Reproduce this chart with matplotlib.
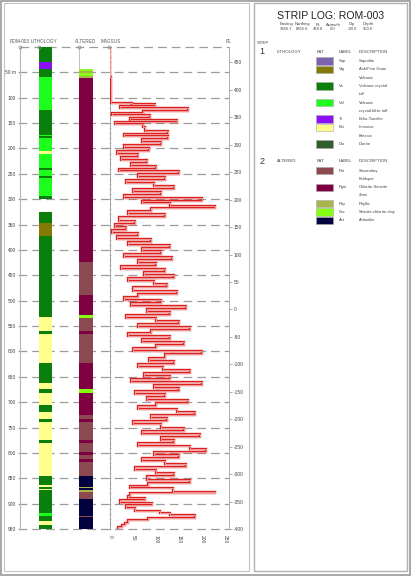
import numpy as np
import matplotlib
matplotlib.use("Agg")
from matplotlib import pyplot as plt
from matplotlib.patches import Rectangle
from matplotlib.ticker import MultipleLocator

plt.rcParams['font.family'] = ['Liberation Sans', 'DejaVu Sans']
plt.rcParams['axes.unicode_minus'] = False

# lithology intervals (depth from, depth to, code)
lith_from = [0, 30, 43, 59, 125, 173, 176, 179, 205, 211, 238, 242, 254, 258, 294,
             326, 346, 373, 532, 559, 565, 623, 662, 674, 681, 706, 719, 733, 740,
             775, 781, 845, 864, 867, 871, 874, 919, 925, 935, 943]
lith_to = [30, 43, 59, 125, 173, 176, 179, 205, 211, 238, 242, 254, 258, 294, 299,
           346, 373, 532, 559, 565, 623, 662, 674, 681, 706, 719, 733, 740, 775,
           781, 845, 864, 867, 871, 874, 919, 925, 935, 943, 950]
lith_code = ['Vx', 'Te', 'Vx', 'Vxl', 'Vx', 'Vxl', 'Vx', 'Vxl', 'Bxi', 'Vxl', 'Vx', 'Vxl', 'Vx', 'Vxl', 'Vx',
             'Vx', 'Vfg', 'Vx', 'Bxi', 'Vx', 'Bxi', 'Vx', 'Bxi', 'Vx', 'Bxi', 'Vx', 'Bxi', 'Vx', 'Bxi',
             'Vx', 'Bxi', 'Vx', 'Bxi', 'Vx', 'Bxi', 'Vx', 'Vxl', 'Vx', 'Bxi', 'Vx']

# alteration intervals
alt_from = [43, 48, 52, 57, 61, 423, 488, 529, 534, 559, 565, 623, 674, 681, 725, 733, 740,
            775, 781, 799, 805, 813, 818, 845, 867, 870, 874, 877, 890, 924, 927]
alt_to = [48, 52, 57, 61, 423, 488, 529, 534, 559, 565, 623, 674, 681, 725, 733, 740, 775,
          781, 799, 805, 813, 818, 845, 867, 870, 874, 877, 890, 924, 927, 950]
alt_code = ['Scc', 'Phy', 'Scc', 'Phy', 'Pgm', 'Pot', 'Pgm', 'Scc', 'Pot', 'Pgm', 'Pot', 'Pgm', 'Scc', 'Pgm', 'Pot', 'Pgm', 'Pot',
            'Pgm', 'Pot', 'Pgm', 'Pot', 'Pgm', 'Pot', 'Act', 'Phy', 'Act', 'Phy', 'Pot', 'Act', 'Pot', 'Act']

# magnetic susceptibility, step values from each depth down to the next one
mag_from = [0, 60, 111, 113, 117, 121, 126, 131, 134, 139, 143, 148, 152, 158, 165, 171, 175, 181, 187,
            193, 199, 205, 210, 216, 222, 228, 234, 240, 245, 251, 256, 262, 268, 274, 280, 286, 292,
            298, 303, 308, 313, 318, 324, 330, 336, 342, 348, 354, 360, 366, 372, 378, 384, 390, 396,
            402, 408, 414, 420, 426, 432, 438, 444, 450, 456, 462, 468, 474, 480, 486, 492, 498, 504,
            510, 516, 522, 528, 534, 540, 546, 552, 558, 564, 570, 576, 582, 588, 594, 600, 606, 612,
            618, 624, 630, 636, 642, 648, 654, 660, 666, 672, 678, 684, 690, 696, 702, 708, 714, 720,
            726, 732, 738, 744, 750, 756, 762, 768, 774, 780, 786, 792, 798, 804, 810, 816, 822, 828,
            834, 840, 846, 854, 860, 866, 870, 877, 879, 885, 889, 893, 899, 903, 909, 915, 919, 923,
            929, 933, 939, 943, 947]
mag_val = [1, 2, 47, 98, 22, 169, 72, 5, 87, 43, 145, 10, 72, 76, 127, 30, 127, 69, 112,
           30, 85, 15, 60, 25, 80, 45, 100, 20, 150, 60, 120, 35, 95, 140, 50, 110, 30,
           200, 70, 130, 228, 90, 40, 120, 20, 55, 10, 35, 5, 60, 15, 90, 40, 130, 70,
           110, 30, 135, 60, 100, 25, 120, 75, 140, 40, 95, 125, 50, 145, 60, 30, 110, 45,
           165, 80, 130, 35, 100, 150, 60, 175, 90, 40, 130, 70, 160, 100, 50, 200, 120, 85,
           140, 60, 115, 175, 75, 130, 45, 200, 95, 150, 55, 120, 80, 170, 100, 60, 145, 185,
           90, 125, 50, 110, 160, 70, 195, 110, 140, 60, 175, 210, 95, 150, 70, 120, 165, 55,
           100, 140, 80, 174, 83, 43, 137, 228, 43, 39, 76, 22, 91, 35, 54, 109, 130, 185,
           83, 39, 33, 26, 17]
mag_bottom = 950

depth_ticks = list(range(0, 951, 50))
rl_ticks = list(range(450, -401, -50))
mag_ticks = [0, 50, 100, 150, 200, 250]

lith_legend = ['Sap', 'Vfg', 'Vx', 'Vxl', 'Te', 'Bxi', 'Dio']
lith_desc = ['Saprolite', 'Ash/Fine Grain\nVolcanic', 'Volcanic crystal\ntuff', 'Volcanic\ncrystal-lithic tuff',
             'Echo-Tonalite', 'Intrusive\nBreccia', 'Diorite']
alt_legend = ['Pot', 'Pgm', 'Phy', 'Scc', 'Act']
alt_desc = ['Secondary\nFeldspar', 'Chlorite-Sericite\nZone', 'Phyllic', 'Sericite-chlorite-clay', 'Actinolite']

colors = {'Sap': '#7d62ad', 'Vfg': '#857a06', 'Vx': '#0b7f0b', 'Vxl': '#1cff1c', 'Te': '#8a10f5',
          'Bxi': '#ffff8c', 'Dio': '#2f5e2c',
          'Pot': '#8a4a50', 'Pgm': '#7e0040', 'Phy': '#a9b54c', 'Scc': '#84ff10', 'Act': '#02023e'}

W, H = 412, 582
fig = plt.figure(figsize=(W / 100, H / 100), dpi=100)


def box(x0, y0, x1, y1):
    # pixel box -> figure rect
    return [x0 / W, 1 - y1 / H, (x1 - x0) / W, (y1 - y0) / H]


def fpt(x, y):
    return x / W, 1 - y / H


# panel frames
fig.patches.append(Rectangle((1 / W, 1 - 575 / H), 409 / W, 574 / H, transform=fig.transFigure,
                             fill=False, ec='#9a9a9a', lw=1.2))
fig.patches.append(Rectangle((3.5 / W, 1 - 571 / H), 246 / W, 568 / H, transform=fig.transFigure,
                             fill=False, ec='#c4c4c4', lw=0.8))
fig.patches.append(Rectangle((254 / W, 1 - 571 / H), 153 / W, 568 / H, transform=fig.transFigure,
                             fill=False, ec='#b0b0b0', lw=1.0))

top, bot = 47, 529
grey = '#8c8c8c'

# depth frame with dashed levels
ax_d = fig.add_axes(box(20, top, 229, bot))
ax_d.set_xlim(0, 1)
ax_d.set_ylim(950, 0)
for s in ['top', 'right', 'bottom']:
    ax_d.spines[s].set_visible(False)
ax_d.spines['left'].set_color('#b5b5b5')
ax_d.spines['left'].set_linewidth(0.8)
ax_d.set_xticks([])
ax_d.set_yticks(depth_ticks[1:])
ax_d.set_yticklabels(['50 m'] + [str(d) for d in depth_ticks[2:]], fontsize=3.5, color='#444444')
ax_d.tick_params(axis='y', length=0, pad=3)
for d in depth_ticks:
    ax_d.plot([-0.01 if d > 0 else 0, 1.0], [d, d], color='#9c9c9c', lw=0.9, ls=(0, (7, 4)),
              clip_on=False, zorder=1)
ax_d.plot([0.283, 0.283], [0, 50], color='#b5b5b5', lw=0.6)

# lithology column
ax_l = fig.add_axes(box(39, top, 52, bot))
ax_l.set_xlim(0, 1)
ax_l.set_ylim(950, 0)
ax_l.patch.set_visible(False)
ax_l.axis('off')
for a, b, c in zip(lith_from, lith_to, lith_code):
    ax_l.bar(0.5, b - a, bottom=a, width=1, color=colors[c], lw=0)

# alteration column
ax_a = fig.add_axes(box(79, top, 93, bot))
ax_a.set_xlim(0, 1)
ax_a.set_ylim(950, 0)
ax_a.patch.set_visible(False)
ax_a.axis('off')
for a, b, c in zip(alt_from, alt_to, alt_code):
    ax_a.bar(0.5, b - a, bottom=a, width=1, color=colors[c], lw=0)

# magsus track
ax_m = fig.add_axes(box(110, top, 229, bot))
ax_m.patch.set_visible(False)
ax_m.set_xlim(0, 259)
ax_m.set_ylim(950, 0)
ax_m.spines['top'].set_visible(False)
ax_m.spines['bottom'].set_visible(False)
ax_m.spines['left'].set_color('#a0a0a0')
ax_m.spines['left'].set_linewidth(0.7)
ax_m.spines['right'].set_color('#b0b0b0')
ax_m.spines['right'].set_linewidth(0.7)
ax_m.set_yticks([])
ax_m.yaxis.set_minor_locator(MultipleLocator(10))
ax_m.tick_params(axis='y', which='minor', length=1.5, width=0.4, color='#999999', direction='inout')
ax_m.set_xticks(mag_ticks)
ax_m.set_xticklabels([str(t) for t in mag_ticks], rotation=-90, fontsize=3.5, color='#444444')
ax_m.tick_params(axis='x', length=0, pad=4)

tops = np.array(mag_from, dtype=float)
bots = np.append(tops[1:], mag_bottom)
xs = np.repeat(mag_val, 2)
ys = np.column_stack([tops, bots]).ravel()
ax_m.plot(xs, ys, color='#dc2020', lw=1.7, solid_joinstyle='miter', zorder=3)
ax_m.plot(xs, ys, color='#fbe0e0', lw=0.45, zorder=4)

# RL scale on the right
ax_r = ax_m.twinx()
ax_r.set_ylim(-400, 478)
ax_r.set_yticks(rl_ticks)
ax_r.set_yticklabels([str(t) for t in rl_ticks], fontsize=3.5, color='#444444')
ax_r.tick_params(axis='y', length=2, width=0.5, color='#888888', pad=1.5)
for s in ax_r.spines.values():
    s.set_visible(False)

# track headers and markers
hy = 41.5
for x, lab in [(20, 'ROM-003'), (44, 'LITHOLOGY'), (86, 'ALTERED'), (111, 'MAGSUS'), (229, 'RL')]:
    fig.text(*fpt(x, hy), lab, fontsize=3.3, color='#555555', ha='center', va='center')
for x in [20, 39, 79, 109]:
    fig.lines.append(plt.Line2D([x / W], [1 - 47 / H], marker='o', ms=2.2, mfc='none', mec=grey,
                                mew=0.5, transform=fig.transFigure))

# legend panel
fig.text(*fpt(331, 16), 'STRIP LOG: ROM-003', fontsize=7.6, ha='center', va='center', color='#222222')
hdr_x = [286, 302, 318, 333, 352, 368]
hdr_n = ['Easting', 'Northing', 'RL', 'Azimuth', 'Dip', 'Depth']
hdr_v = ['3866.7', '8355.6', '478.0', '0.0', '-90.0', '950.0']
for x, n, v in zip(hdr_x, hdr_n, hdr_v):
    fig.text(*fpt(x, 24.5), n, fontsize=3.0, ha='center', va='center', color='#444444')
    fig.text(*fpt(x, 29), v, fontsize=3.0, ha='center', va='center', color='#444444')
fig.text(*fpt(263, 43), 'STRIP', fontsize=3.0, ha='center', va='center', color='#444444')

step = 8.3


def legend_block(num, name, y0, codes, descs):
    fig.text(*fpt(262, y0), num, fontsize=6.5, ha='center', va='center', color='#333333')
    fig.text(*fpt(277, y0), name, fontsize=3.1, ha='left', va='center', color='#444444')
    fig.text(*fpt(317, y0), 'PAT', fontsize=3.1, ha='left', va='center', color='#444444')
    fig.text(*fpt(339, y0), 'LABEL', fontsize=3.1, ha='left', va='center', color='#444444')
    fig.text(*fpt(359, y0), 'DESCRIPTION', fontsize=3.1, ha='left', va='center', color='#444444')
    y = y0 + 9
    for c, d in zip(codes, descs):
        fig.patches.append(Rectangle(((316) / W, 1 - (y + 3.6) / H), 17 / W, 7.2 / H,
                                     transform=fig.transFigure, fc=colors[c], ec='#aaaaaa', lw=0.4))
        fig.text(*fpt(339, y), c, fontsize=3.0, ha='left', va='center', color='#444444')
        for i, line in enumerate(d.split('\n')):
            fig.text(*fpt(359, y + i * step), line, fontsize=3.0, ha='left', va='center', color='#444444')
        y += step * len(d.split('\n'))


legend_block('1', 'LITHOLOGY', 52, lith_legend, lith_desc)
legend_block('2', 'ALTERED', 161.5, alt_legend, alt_desc)

fig.savefig('out.png', dpi=100)
